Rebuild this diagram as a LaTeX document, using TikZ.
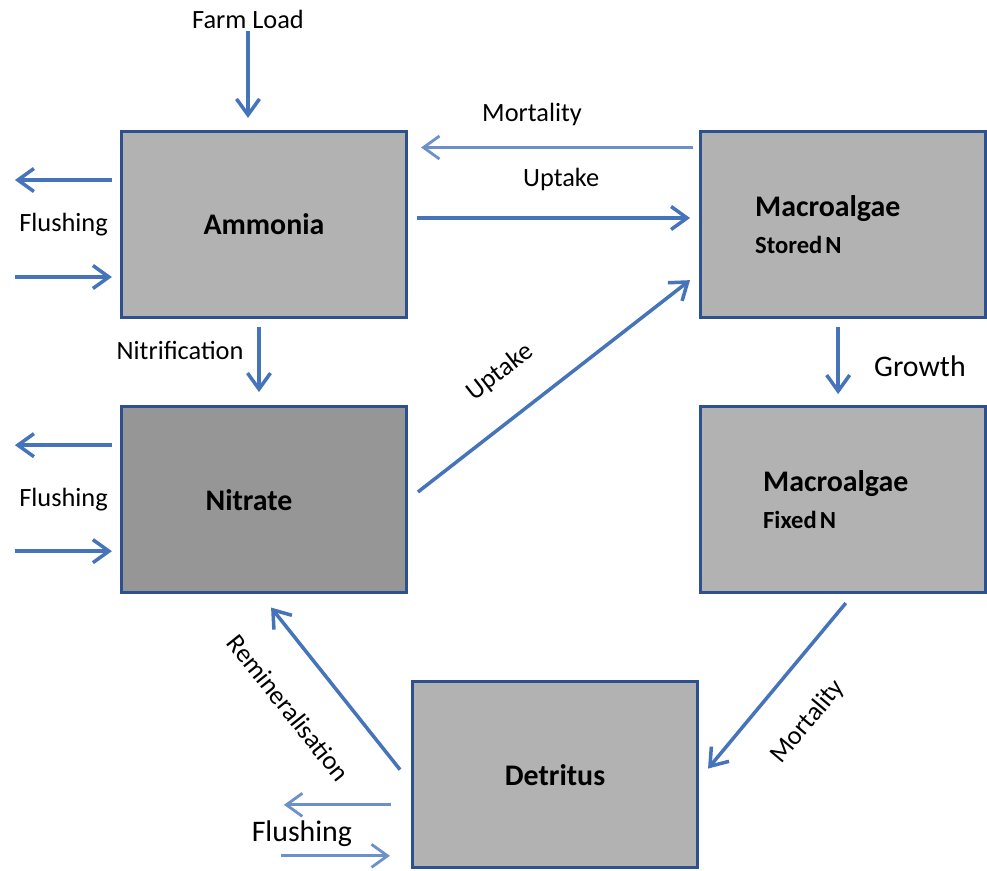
\documentclass[tikz,border=0pt]{standalone}
\usepackage{fontspec}
\setmainfont{Carlito}
\usepackage{tikz}
\usetikzlibrary{positioning,arrows.meta,calc}
\definecolor{boxline}{RGB}{46,80,142}
\definecolor{flowblue}{RGB}{70,116,186}
\definecolor{flowpale}{RGB}{108,145,202}
\definecolor{poolgray}{RGB}{178,178,178}
\definecolor{poolgraydk}{RGB}{150,150,150}

\begin{document}
\begin{tikzpicture}[
  node distance=17.2mm and 58.2mm,
  pool/.style={draw=boxline, line width=1.8pt, fill=poolgray, minimum width=57mm,
               minimum height=37.2mm, align=left, font=\fontsize{17}{21}\selectfont\bfseries},
  lab/.style={inner sep=1pt, font=\fontsize{15}{18}\selectfont},
  biglab/.style={inner sep=1pt, font=\fontsize{17}{20}\selectfont},
  arr/.style={-{Straight Barb[length=3.2mm, width=4.6mm]}, line width=2pt, draw=flowblue},
  arrpale/.style={arr, line width=1.6pt, draw=flowpale}
]
\useasboundingbox (0,0) rectangle (19.74,-17.4);
% nitrogen pools
\node[pool] (ammonia) at (5.28,-4.49) {Ammonia};
\node[pool, fill=poolgraydk, below=of ammonia] (nitrate) {Nitrate\hspace*{6mm}};
\node[pool, right=of ammonia, text width=35.2mm] (stored) {Macroalgae\\\fontsize{14}{17}\selectfont\mbox{Stored\hspace{0.12em}N}};
\node[pool, below=of stored, text width=32mm] (fixed) {Macroalgae\\\fontsize{14}{17}\selectfont\mbox{Fixed\hspace{0.12em}N}};
\node[pool, below left=17.2mm and 0mm of fixed.south west] (detritus) {Detritus};

% external labels
\node[lab, above=19.8mm of ammonia.north, xshift=-3.2mm] (farm) {Farm Load};
\node[lab, left=2mm of ammonia] (flushA) {Flushing};
\node[lab, left=2mm of nitrate] (flushN) {Flushing};
\node[biglab] (flushD) at ([xshift=-21.8mm, yshift=-11.8mm]detritus.west) {Flushing};

% inputs and flushing
\draw[arr] (farm) -- ([xshift=-3.2mm, yshift=2.4mm]ammonia.north);
\draw[arr] ([yshift=8.9mm]ammonia.west) ++(-1.6mm,0) -- ++(-19.4mm,0);
\draw[arr] ([yshift=-10.5mm]ammonia.west) ++(-21mm,0) -- ++(19.4mm,0);
\draw[arr] ([yshift=10.9mm]nitrate.west) ++(-1.6mm,0) -- ++(-19.4mm,0);
\draw[arr] ([yshift=-10.3mm]nitrate.west) ++(-21mm,0) -- ++(19.4mm,0);
\draw[arrpale] ([yshift=-6mm]detritus.west) ++(-4mm,0) -- ++(-21.4mm,0);
\draw[arrpale] ([yshift=-16.2mm]detritus.west) ++(-26mm,0) -- ++(21.8mm,0);

% transfers between pools
\draw[arr, shorten <=1.6mm, shorten >=2.6mm] ([xshift=-1mm]ammonia.south) -- ([xshift=-1mm]nitrate.north)
  node[lab, pos=0.37, left=2.4mm] {Nitrification};
\draw[arrpale, shorten <=1.2mm, shorten >=2.6mm] ([yshift=15.4mm]stored.west) -- ([yshift=15.4mm]ammonia.east)
  node[lab, pos=0.574, above=3.8mm] {Mortality};
\draw[arr, shorten <=1.8mm, shorten >=1.8mm] ([yshift=1.3mm]ammonia.east) -- ([yshift=1.3mm]stored.west)
  node[lab, pos=0.526, above=4.8mm] {Uptake};
\draw[arr, shorten <=2.5mm, shorten >=2.3mm] (nitrate.east) -- ([yshift=9.2mm]stored.south west)
  node[lab, pos=0.409, sloped, above=5.8mm] {Uptake};
\draw[arr, shorten <=1.6mm, shorten >=2.2mm] ([xshift=-1mm]stored.south) -- ([xshift=-1mm]fixed.north)
  node[biglab, pos=0.55, right=6.5mm] {Growth};
\draw[arr, shorten <=2.3mm, shorten >=2.8mm] ([xshift=2mm]fixed.south) -- ([yshift=-0.9mm]detritus.east)
  node[lab, pos=0.527, sloped, below=6.4mm] {Mortality};
\draw[arr, shorten <=3.5mm, shorten >=3.4mm] ([yshift=-1.7mm]detritus.west) -- ([xshift=-0.7mm]nitrate.south)
  node[lab, pos=0.56, sloped, below=7.2mm] {Remineralisation};
\end{tikzpicture}
\end{document}
